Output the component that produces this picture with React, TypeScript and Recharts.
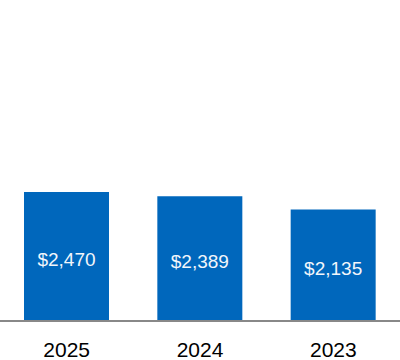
import { Bar, BarChart, LabelList, XAxis, YAxis } from 'recharts';

const years = ['2025', '2024', '2023'];
const totals = [2470, 2389, 2135];

const data = years.map((year, i) => ({ year, total: totals[i] }));

const fmt = (v: number) => '$' + v.toLocaleString('en-US');

export default function App() {
  return (
    <div style={{ position: 'absolute', left: 0, top: 0, width: 400, height: 360, background: '#fff', fontFamily: '"Liberation Sans", Arial, sans-serif' }}>
      <BarChart width={400} height={360} data={data} margin={{ top: 0, right: 0, bottom: 0, left: 0 }} barCategoryGap={24}>
        <XAxis
          dataKey="year"
          height={39}
          tickLine={false}
          axisLine={{ stroke: '#888', strokeWidth: 2 }}
          tick={{ fill: '#000', fontSize: 21 }}
          dy={13}
        />
        <YAxis hide domain={[0, 6150]} />
        <Bar dataKey="total" fill="#0067BC" isAnimationActive={false}>
          <LabelList dataKey="total" position="center" formatter={fmt} fill="#f2f6fb" fontSize={19} dy={3} />
        </Bar>
      </BarChart>
    </div>
  );
}
